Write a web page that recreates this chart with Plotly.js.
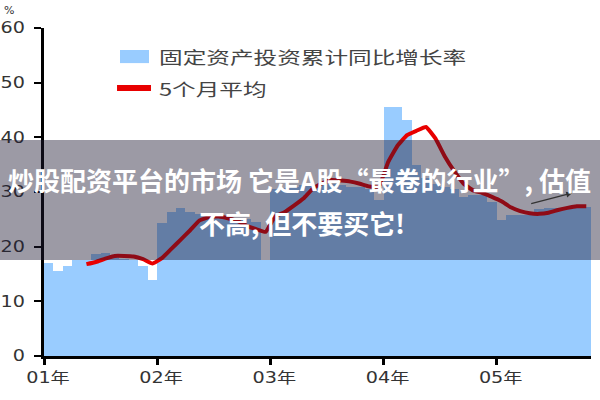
<!DOCTYPE html>
<html><head><meta charset="utf-8">
<script src="https://cdn.plot.ly/plotly-3.0.1.min.js"></script>
<style>html,body{margin:0;padding:0;background:#fff}#chart{width:600px;height:400px}</style>
</head><body><div id="chart"></div>
<script>
// Year tick labels
const yearLabels = ['01年', '02年', '03年', '04年', '05年'];

// Monthly categories (2001-01 .. 2005-10)
const months = [
  '2001-01','2001-02','2001-03','2001-04','2001-05','2001-06','2001-07','2001-08','2001-09','2001-10','2001-11','2001-12',
  '2002-01','2002-02','2002-03','2002-04','2002-05','2002-06','2002-07','2002-08','2002-09','2002-10','2002-11','2002-12',
  '2003-01','2003-02','2003-03','2003-04','2003-05','2003-06','2003-07','2003-08','2003-09','2003-10','2003-11','2003-12',
  '2004-01','2004-02','2004-03','2004-04','2004-05','2004-06','2004-07','2004-08','2004-09','2004-10','2004-11','2004-12',
  '2005-01','2005-02','2005-03','2005-04','2005-05','2005-06','2005-07','2005-08','2005-09','2005-10'
];

// 固定资产投资累计同比增长率 (%)
const fixedAssetGrowth = [
  17.0, 15.6, 16.5, 17.6, 17.6, 18.7, 18.8, 18.1, 17.8, 17.6, 16.5, 13.9,
  24.4, 26.4, 27.0, 26.4, 26.0, 25.8, 25.6, 25.4, 25.2, 25.0, 24.5, 17.5,
  30.5, 30.8, 31.0, 31.3, 31.5, 31.5, 31.5, 31.3, 31.0, 31.0, 30.5, 28.5,
  45.5, 45.5, 43.2, 34.9, 32.5, 31.5, 31.0, 30.5, 29.0, 29.5, 29.5, 28.2,
  24.8, 25.8, 25.8, 25.8, 26.9, 27.0, 27.0, 27.1, 27.2, 27.3
];

// 5个月平均 (%)
const avg5 = [
  null, null, null, null, 16.8, 17.2, 17.8, 18.3, 18.3, 18.2, 17.7, 16.9,
  17.9, 19.6, 21.3, 23.0, 24.8, 25.4, 25.5, 25.2, 24.7, 23.8, 23.2, 22.7,
  25.5, 26.3, 27.5, 28.8, 30.6, 31.6, 32.2, 32.1, 31.9, 31.5, 31.0, 31.0,
  35.5, 38.5, 40.4, 41.2, 41.9, 39.8, 36.5, 33.8, 31.5, 30.3, 29.8, 29.1,
  28.3, 27.2, 26.5, 26.1, 26.0, 26.2, 26.7, 27.1, 27.4, 27.4
];

const yTicks = [0, 10, 20, 30, 40, 50, 60];

const xPos = months.map((m, i) => i + 0.5);
const yearTickVals = yearLabels.map((y, k) => k * 12);

const traces = [
  {
    type: 'bar', x: xPos, y: fixedAssetGrowth, width: 1,
    marker: {color: '#99CCFF', line: {width: 0}},
    name: '固定资产投资累计同比增长率', hoverinfo: 'skip'
  },
  {
    type: 'scatter', mode: 'lines', x: xPos, y: avg5,
    line: {color: '#E80000', width: 4, shape: 'spline', smoothing: 0.35},
    name: '5个月平均', hoverinfo: 'skip'
  }
];

const cjk = 'Noto Sans CJK SC, sans-serif';
const layout = {
  width: 600, height: 400,
  margin: {l: 44, r: 9, t: 28, b: 44},
  paper_bgcolor: '#fff', plot_bgcolor: '#fff',
  showlegend: false, bargap: 0,
  xaxis: {
    range: [0, 58], tickmode: 'array', tickvals: yearTickVals, ticktext: yearLabels,
    showline: true, linecolor: '#000', linewidth: 3,
    ticks: 'outside', ticklen: 6, tickwidth: 3, tickcolor: '#000',
    showgrid: false, zeroline: false, ticklabelshift: 4,
    tickfont: {family: 'DejaVu Sans, Noto Sans CJK SC', size: 15, color: '#333'}
  },
  yaxis: {
    range: [0, 60], tickmode: 'array', tickvals: yTicks,
    showline: true, linecolor: '#000', linewidth: 3,
    ticks: 'outside', ticklen: 7, tickwidth: 2, tickcolor: '#000',
    showgrid: false, zeroline: false, ticklabelstandoff: 6,
    tickfont: {family: 'DejaVu Sans', size: 15, color: '#333'}
  },
  shapes: [
    // legend swatches
    {type: 'rect', xref: 'paper', yref: 'paper', x0: 0.1389, x1: 0.192, y0: 0.893, y1: 0.933,
     fillcolor: '#99CCFF', line: {width: 0}},
    {type: 'line', xref: 'paper', yref: 'paper', x0: 0.1335, x1: 0.1956, y0: 0.817, y1: 0.817,
     line: {color: '#E80000', width: 6}},
    // overlay caption band
    {type: 'rect', xref: 'paper', yref: 'paper', x0: -0.1, x1: 1.1, y0: 0.2927, y1: 0.6585,
     fillcolor: 'rgba(30,25,50,0.44)', line: {width: 0}, layer: 'above'}
  ],
  annotations: [
    {xref: 'paper', yref: 'paper', x: -0.064, y: 1.052, text: '%', showarrow: false,
     font: {family: 'DejaVu Sans', size: 11, color: '#333'}, xanchor: 'center', yanchor: 'middle'},
    {xref: 'paper', yref: 'paper', x: 0.2066, y: 0.9116, text: '固定资产投资累计同比增长率', showarrow: false,
     align: 'left', xanchor: 'left', yanchor: 'middle', font: {family: cjk, size: 17, color: '#444'}},
    {xref: 'paper', yref: 'paper', x: 0.2066, y: 0.817, text: '5个月平均', showarrow: false,
     align: 'left', xanchor: 'left', yanchor: 'middle', font: {family: cjk, size: 17, color: '#444'}},
    {xref: 'x', yref: 'y', x: 56.0, y: 29.8, ax: 51.5, ay: 27.8, axref: 'x', ayref: 'y',
     text: '', showarrow: true, arrowhead: 2, arrowsize: 0.9, arrowwidth: 1.3, arrowcolor: '#333'},
    {xref: 'paper', yref: 'paper', x: 0.468, y: 0.5366, text: '<b>炒股配资平台的市场 它是A股“最卷的行业”, 估值</b>',
     showarrow: false, xanchor: 'center', yanchor: 'middle', font: {family: cjk, size: 26, color: '#fff'}},
    {xref: 'paper', yref: 'paper', x: 0.4717, y: 0.4085, text: '<b>不高, 但不要买它!</b>',
     showarrow: false, xanchor: 'center', yanchor: 'middle', font: {family: cjk, size: 26, color: '#fff'}}
  ]
};

Plotly.newPlot('chart', traces, layout, {displayModeBar: false, staticPlot: true}).then(gd => {
  const stretch = (el, factor) => {
    const w = el.getComputedTextLength();
    if (w > 0) {
      el.setAttribute('textLength', (w * factor).toFixed(1));
      el.setAttribute('lengthAdjust', 'spacingAndGlyphs');
    }
  };
  gd.querySelectorAll('.xtick text, .ytick text').forEach(t => stretch(t, 1.28));
  const ann = gd.querySelectorAll('.annotation-text');
  if (ann[1]) stretch(ann[1], 1.39);
  if (ann[2]) stretch(ann[2], 1.39);
});
</script>
</body></html>
